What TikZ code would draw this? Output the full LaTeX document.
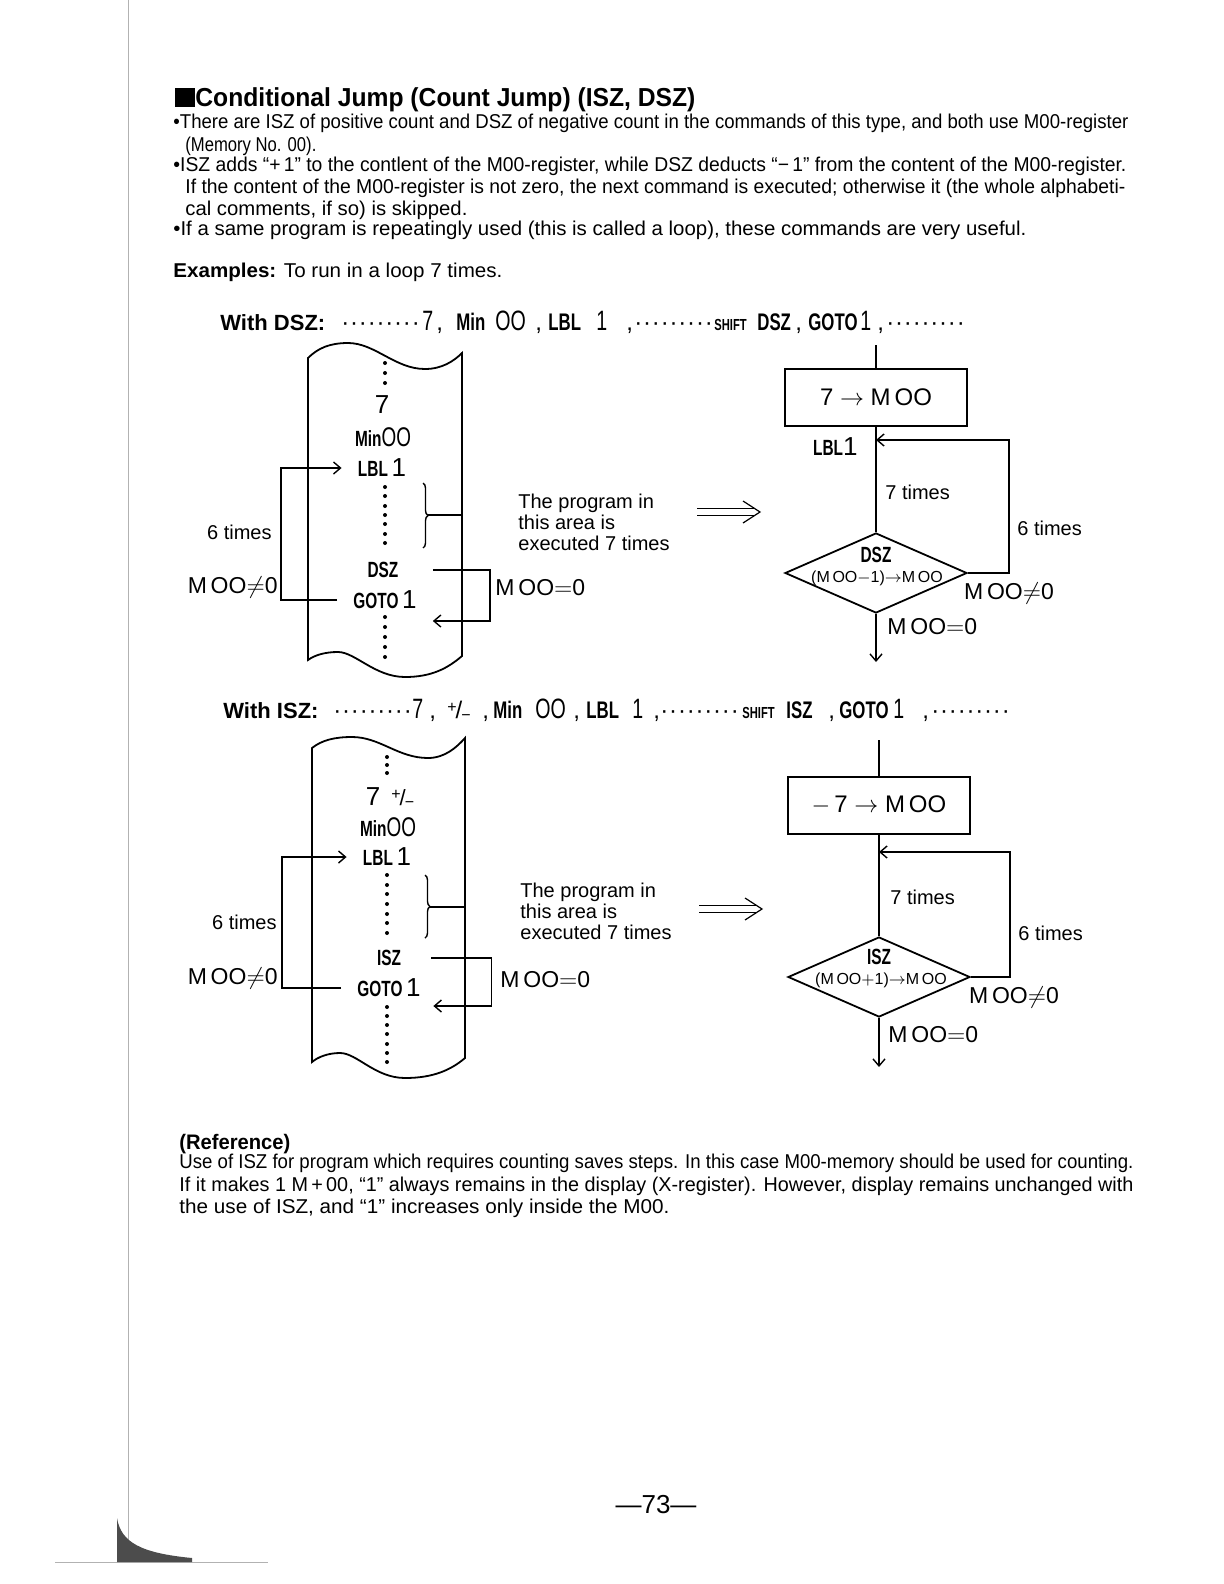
\documentclass[tikz,border=0pt]{standalone}
\usepackage{fontspec}
\usepackage{graphicx}
\setmainfont{Liberation Sans}
\newfontfamily\keyfont[FakeStretch=0.7]{Liberation Sans}
\usetikzlibrary{arrows.meta, shapes.geometric, decorations.pathreplacing}

\newcommand{\keyname}[1]{{\keyfont\bfseries #1}}
\newcommand{\bignum}[1]{{\fontsize{13}{14}\selectfont #1}}
\newcommand{\bigoo}{{\keyfont\fontsize{13.5}{14}\selectfont OO}}
\newcommand{\bigkey}[1]{{\keyfont\fontsize{14}{16}\selectfont #1}}
\newcommand{\fitw}[2]{\resizebox{#1}{\height}{#2}}
\newcommand{\putat}[2]{\rlap{\hspace*{#1}#2}}
\newcommand{\leaderdots}{\foreach \k in {1,...,9}{\makebox[4.4pt][l]{·}}}
\newcommand{\pmkey}{\raisebox{3pt}{\fontsize{8}{8}\selectfont +}\kern-0.5pt/\kern-0.5pt\raisebox{-1pt}{\fontsize{8}{8}\selectfont −}}

\tikzset{
    implies/.pic={
        \draw[line width=0.6pt] (0,-3.5) -- (58,-3.5) (0,3.5) -- (58,3.5);
        \draw[line width=0.6pt] (46,-11) -- (63,0) -- (46,11);
    }
}

\begin{document}
\begin{tikzpicture}[x=0.5pt, y=-0.5pt,
    body/.style={anchor=base west, inner sep=0pt, font=\fontsize{10}{12}\selectfont},
    hdr/.style={anchor=base west, inner sep=0pt, font=\fontsize{12}{14}\selectfont},
    lbl/.style={inner sep=0pt, font=\fontsize{10}{10.5}\selectfont},
    meq/.style={inner sep=0pt, font=\fontsize{11.5}{13}\selectfont},
    key/.style={inner sep=0pt, font=\fontsize{11}{13}\selectfont},
    small/.style={inner sep=0pt, font=\fontsize{8}{9}\selectfont},
    conn/.style={line width=0.7pt},
    arr/.style={conn, -{Straight Barb[length=3.5pt,width=6pt]}},
    tape/.style={line width=0.9pt},
    brc/.style={conn, decorate, decoration={brace, amplitude=2.5pt}},
    box/.style={draw, rectangle, line width=1pt, minimum width=91pt, minimum height=28.5pt, font=\fontsize{12}{14}\selectfont},
    test/.style={draw, diamond, line width=0.9pt, minimum width=91pt, minimum height=40pt, inner sep=0pt}]

    % Page
    \fill[white] (0,0) rectangle (1224,1584);
    \useasboundingbox (0,0) rectangle (1224,1584);
    \draw[gray!60, line width=0.5pt] (128,0) -- (128,1562);
    \draw[gray!60, line width=0.5pt] (55,1562) -- (268,1562);
    \fill[black!70] (117,1518) .. controls (121,1542) and (140,1553) .. (192,1558) -- (192,1562) -- (117,1562) -- cycle;

    % Title and text
    \node[body, font=\bfseries\fontsize{13}{15}\selectfont] (title) at (175,107) {\rule{10pt}{9.5pt}\fitw{250pt}{Conditional Jump (Count Jump) (ISZ, DSZ)}};
    \node[body] (line1) at (173,128) {\fitw{477.5pt}{\textbullet There are ISZ of positive count and DSZ of negative count in the commands of this type, and both use M00-register}};
    \node[body] (line2) at (185,151) {\fitw{65.5pt}{(Memory No. 00).}};
    \node[body] (line3) at (173,171) {\fitw{476.5pt}{\textbullet ISZ adds “+\,1” to the contlent of the M00-register, while DSZ deducts “−\,1” from the content of the M00-register.}};
    \node[body] (line4) at (185,193) {\fitw{470pt}{If the content of the M00-register is not zero, the next command is executed; otherwise it (the whole alphabeti-}};
    \node[body] (line5) at (185,215) {\fitw{141pt}{cal comments, if so) is skipped.}};
    \node[body] (line6) at (173,235) {\fitw{426.5pt}{\textbullet If a same program is repeatingly used (this is called a loop), these commands are very useful.}};
    \node[body] (examples) at (173,277) {\fitw{164.5pt}{\textbf{Examples:} To run in a loop 7 times.}};

    % Key sequence with DSZ
    \node[hdr] (dszkeys) at (220,330) {%
        \putat{0pt}{\bfseries\fontsize{11}{13}\selectfont With DSZ:}%
        \putat{60.5pt}{\leaderdots}%
        \putat{101pt}{\bigkey{7}}%
        \putat{108pt}{,}%
        \putat{118pt}{\keyname{Min}}%
        \putat{137.5pt}{\bigkey{OO}}%
        \putat{157.5pt}{,}%
        \putat{164pt}{\keyname{LBL}}%
        \putat{188pt}{\bigkey{1}}%
        \putat{203pt}{,}%
        \putat{207pt}{\leaderdots}%
        \putat{247pt}{\keyname{\fontsize{8}{9}\selectfont SHIFT}}%
        \putat{268.5pt}{\keyname{DSZ}}%
        \putat{287.5pt}{,}%
        \putat{294pt}{\keyname{GOTO}}%
        \putat{320pt}{\bigkey{1}}%
        \putat{328.5pt}{,}%
        \putat{333pt}{\leaderdots}%
        \rule{0pt}{8pt}\hspace*{369pt}};

    % DSZ tape
    \draw[tape] (308,358) .. controls (318,348) and (330,343) .. (348,343) .. controls (375,343) and (395,369) .. (425,369) .. controls (442,369) and (454,361) .. (462,353) -- (462,656) .. controls (448,668) and (432,677) .. (405,677) .. controls (375,677) and (355,652) .. (338,652) .. controls (325,652) and (315,655) .. (308,660) -- cycle;
    \foreach \y in {363,373,383,487,496,506,515,524,534,543,617,627,637,647,657}
        \fill (385,\y) circle[radius=2];
    \node[key] (d7) at (382,405) {\bignum{7}};
    \node[key] (dmin) at (383,437) {\keyname{Min}\bigoo};
    \node[key, inner xsep=8pt] (dlbl) at (382,468) {\keyname{LBL}\,\bignum{1}};
    \node[key] (ddsz) at (383,570) {\keyname{DSZ}};
    \node[key, inner xsep=8pt] (dgoto) at (385,600) {\keyname{GOTO}\,\bignum{1}};
    \draw[arr] (dgoto.west) -- ++(-56,0) |- (dlbl.west);
    \draw[arr] (ddsz.east) ++(34,0) -- ++(57,0) -- ++(0,51) -- ++(-57,0);
    \draw[brc] (423,483) -- (423,548);
    \draw[conn] (428,515) -- (462,515);
    \node[lbl, anchor=east] (dsix) at (272,532) {6 times};
    \node[meq, anchor=east] (dnz) at (278,587) {M\,OO$\neq$0};
    \node[meq, anchor=west] (dzero) at (495,588) {M\,OO$=$0};
    \node[lbl, anchor=north west, align=left] (darea) at (518,494) {The program in\\this area is\\executed 7 times};
    \pic at (697,512) {implies};

    % DSZ flowchart
    \coordinate (dstart) at (876,345);
    \node[box] (dset) at (876,397) {7 $\rightarrow$ M\,OO};
    \node[test] (dtest) at (876,573) {\phantom{D}};
    \node[key] (dtestk) at (876,555) {\keyname{DSZ}};
    \node[small] (dtestf) at (877,578) {(M\,OO$-$1)$\rightarrow$M\,OO};
    \coordinate (djoin) at (876,440);
    \coordinate (dend) at (876,662);
    \draw[conn] (dstart) -- (dset);
    \draw[conn] (dset) -- (dtest);
    \draw[arr] (dtest.east) -- ++(41,0) |- (djoin);
    \draw[arr] (dtest) -- (dend);
    \node[key, anchor=east] (dlbl1) at (858,447) {\keyname{LBL}\bignum{1}};
    \node[lbl, anchor=west] (dseven) at (885,492) {7 times};
    \node[lbl, anchor=west] (dsix2) at (1017,528) {6 times};
    \node[meq] (dnz2) at (1009,593) {M\,OO$\neq$0};
    \node[meq, anchor=west] (dzero2) at (887,627) {M\,OO$=$0};

    % Key sequence with ISZ
    \node[hdr] (iszkeys) at (223,718) {%
        \putat{0pt}{\bfseries\fontsize{11}{13}\selectfont With ISZ:}%
        \putat{55pt}{\leaderdots}%
        \putat{94.5pt}{\bigkey{7}}%
        \putat{103pt}{,}%
        \putat{112pt}{\pmkey}%
        \putat{129.5pt}{,}%
        \putat{135pt}{\keyname{Min}}%
        \putat{156pt}{\bigkey{OO}}%
        \putat{175pt}{,}%
        \putat{181.5pt}{\keyname{LBL}}%
        \putat{204.5pt}{\bigkey{1}}%
        \putat{215pt}{,}%
        \putat{218.5pt}{\leaderdots}%
        \putat{259.5pt}{\keyname{\fontsize{8}{9}\selectfont SHIFT}}%
        \putat{281.5pt}{\keyname{ISZ}}%
        \putat{302.5pt}{,}%
        \putat{308pt}{\keyname{GOTO}}%
        \putat{335pt}{\bigkey{1}}%
        \putat{349.5pt}{,}%
        \putat{354pt}{\leaderdots}%
        \rule{0pt}{8pt}\hspace*{390pt}};

    % ISZ tape
    \draw[tape] (312,748) .. controls (322,740) and (335,737) .. (352,737) .. controls (380,737) and (398,758) .. (428,758) .. controls (445,758) and (457,747) .. (465,738) -- (465,1058) .. controls (451,1070) and (433,1078) .. (405,1078) .. controls (375,1078) and (357,1053) .. (340,1053) .. controls (328,1053) and (318,1057) .. (312,1062) -- cycle;
    \foreach \y in {757,765,773,875,885,894,904,914,923,933,1007,1016,1025,1034,1044,1053,1062}
        \fill (387,\y) circle[radius=2];
    \node[key] (i7) at (390,798) {\bignum{7}\enspace\pmkey};
    \node[key] (imin) at (388,827) {\keyname{Min}\bigoo};
    \node[key, inner xsep=8pt] (ilbl) at (387,857) {\keyname{LBL}\,\bignum{1}};
    \node[key] (iisz) at (389,958) {\keyname{ISZ}};
    \node[key, inner xsep=8pt] (igoto) at (389,988) {\keyname{GOTO}\,\bignum{1}};
    \draw[arr] (igoto.west) -- ++(-59,0) |- (ilbl.west);
    \draw[arr] (iisz.east) ++(30,0) -- ++(60,0) -- ++(0,48) -- ++(-58,0);
    \draw[brc] (425,875) -- (425,938);
    \draw[conn] (430,907) -- (465,907);
    \node[lbl, anchor=east] (isix) at (277,922) {6 times};
    \node[meq, anchor=east] (inz) at (278,978) {M\,OO$\neq$0};
    \node[meq, anchor=west] (izero) at (500,980) {M\,OO$=$0};
    \node[lbl, anchor=north west, align=left] (iarea) at (520,883) {The program in\\this area is\\executed 7 times};
    \pic at (699,909) {implies};

    % ISZ flowchart
    \coordinate (istart) at (879,740);
    \node[box] (iset) at (879,805) {$-$\,7 $\rightarrow$ M\,OO};
    \node[test] (itest) at (879,977) {\phantom{I}};
    \node[key] (itestk) at (879,957) {\keyname{ISZ}};
    \node[small] (itestf) at (881,980) {(M\,OO$+$1)$\rightarrow$M\,OO};
    \coordinate (ijoin) at (879,852);
    \coordinate (iend) at (879,1067);
    \draw[conn] (istart) -- (iset);
    \draw[conn] (iset) -- (itest);
    \draw[arr] (itest.east) -- ++(39,0) |- (ijoin);
    \draw[arr] (itest) -- (iend);
    \node[lbl, anchor=west] (iseven) at (890,897) {7 times};
    \node[lbl, anchor=west] (isix2) at (1018,933) {6 times};
    \node[meq] (inz2) at (1014,997) {M\,OO$\neq$0};
    \node[meq, anchor=west] (izero2) at (888,1035) {M\,OO$=$0};

    % Reference note
    \node[body, font=\bfseries\fontsize{10.5}{12}\selectfont] (refhead) at (179,1149) {\fitw{55.5pt}{(Reference)}};
    \node[body] (ref1) at (179,1168) {\fitw{477pt}{Use of ISZ for program which requires counting saves steps. In this case M00-memory should be used for counting.}};
    \node[body] (ref2) at (179,1191) {\fitw{477pt}{If it makes 1 M\,+\,00, “1” always remains in the display (X-register). However, display remains unchanged with}};
    \node[body] (ref3) at (179,1213) {\fitw{245pt}{the use of ISZ, and “1” increases only inside the M00.}};

    % Page number
    \node (pnum) at (656,1505) {\fontsize{13}{15}\selectfont —73—};
\end{tikzpicture}
\end{document}
